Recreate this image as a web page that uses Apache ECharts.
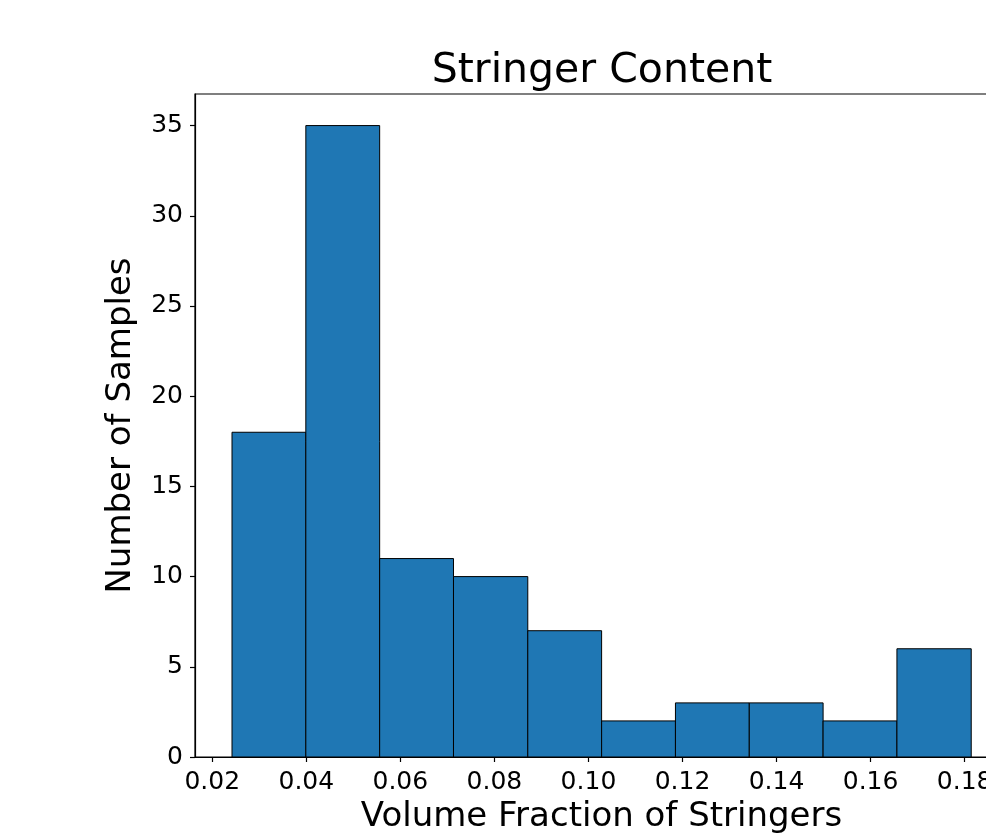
<!DOCTYPE html>
<html>
<head>
<meta charset="utf-8">
<script src="https://cdn.jsdelivr.net/npm/echarts@6/dist/echarts.min.js"></script>
<style>
  html, body { margin: 0; padding: 0; overflow: hidden; background: #fff; }
  #chart { width: 1010px; height: 834px; }
</style>
</head>
<body>
<div id="chart"></div>
<script>
// histogram bins (left/right edges) and counts
const binEdges = [0.0242, 0.0399, 0.0556, 0.0713, 0.0871, 0.1028, 0.1185, 0.1342, 0.1499, 0.1656, 0.1814];
const counts = [18, 35, 11, 10, 7, 2, 3, 3, 2, 6];
const xTicks = [0.02, 0.04, 0.06, 0.08, 0.10, 0.12, 0.14, 0.16, 0.18];
const yTicks = [0, 5, 10, 15, 20, 25, 30, 35];

const font = 'DejaVu Sans';
const chart = echarts.init(document.getElementById('chart'), null, { renderer: 'canvas' });

const bars = counts.map((c, i) => [binEdges[i], binEdges[i + 1], c]);

const option = {
  animation: false,
  backgroundColor: '#fff',
  title: {
    text: 'Stringer Content',
    left: 597,
    top: 46,
    textAlign: 'center',
    textStyle: { fontFamily: font, fontSize: 41, fontWeight: 'normal', color: '#000' }
  },
  grid: {
    left: 195, top: 94, width: 813, height: 663,
    outerBoundsMode: 'none',
    containLabel: false,
    show: true, borderColor: '#000', borderWidth: 1.2, backgroundColor: 'transparent'
  },
  xAxis: {
    type: 'value',
    min: 0.01633,
    max: 0.18922,
    name: 'Volume Fraction of Stringers',
    nameLocation: 'middle',
    nameGap: 38,
    nameTextStyle: { fontFamily: font, fontSize: 34, color: '#000' },
    splitLine: { show: false },
    axisLine: { show: true, lineStyle: { color: '#000', width: 1.2 } },
    axisTick: { show: true, length: 5, lineStyle: { color: '#000', width: 1.2 }, customValues: xTicks },
    axisLabel: {
      fontFamily: font, fontSize: 25, color: '#000', margin: 13,
      customValues: xTicks,
      formatter: v => v.toFixed(2)
    }
  },
  yAxis: {
    type: 'value',
    min: 0,
    max: 36.75,
    name: 'Number of Samples',
    nameLocation: 'middle',
    nameGap: 57,
    nameTextStyle: { fontFamily: font, fontSize: 34, color: '#000' },
    splitLine: { show: false },
    axisLine: { show: true, lineStyle: { color: '#000', width: 1.2 } },
    axisTick: { show: true, length: 5, lineStyle: { color: '#000', width: 1.2 }, customValues: yTicks },
    axisLabel: {
      fontFamily: font, fontSize: 25, color: '#000', margin: 12,
      customValues: yTicks
    }
  },
  series: [{
    type: 'custom',
    data: bars,
    encode: { x: [0, 1], y: 2 },
    renderItem: (params, api) => {
      const p0 = api.coord([api.value(0), api.value(2)]);
      const p1 = api.coord([api.value(1), 0]);
      return {
        type: 'rect',
        shape: { x: p0[0], y: p0[1], width: p1[0] - p0[0], height: p1[1] - p0[1] },
        style: { fill: '#1f77b4', stroke: '#000', lineWidth: 1 }
      };
    }
  }]
};

chart.setOption(option);
</script>
</body>
</html>
